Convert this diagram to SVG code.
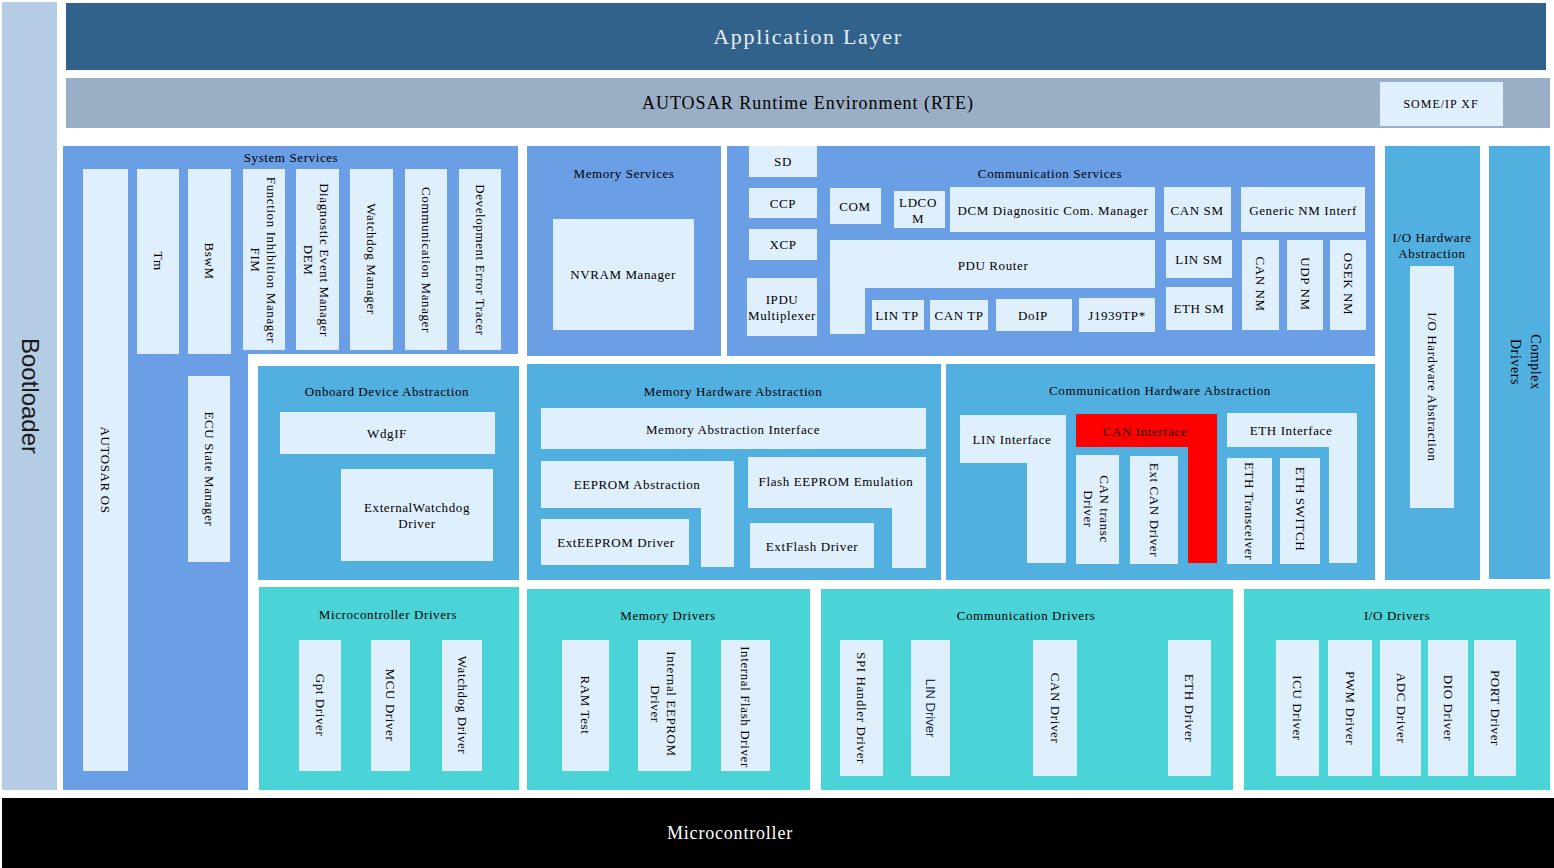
<svg xmlns="http://www.w3.org/2000/svg" width="1554" height="868" viewBox="0 0 1554 868">
<style>
.t{font-family:"Liberation Serif",serif;font-size:13px;letter-spacing:0.6px;fill:#000;text-anchor:middle;dominant-baseline:central}
.ss{fill:#6a9fe6}.hw{fill:#52b0e0}.dr{fill:#4bd4d8}.lb{fill:#e0effc}
</style>
<rect width="1554" height="868" fill="#fff"/>
<g id="bootloader"><rect x="2" y="2" width="55" height="788" fill="#b4cce4"/><text transform="translate(30,396) rotate(90)" style="font-family:'Liberation Sans',sans-serif;font-size:24px;fill:#1a1a1a;text-anchor:middle;dominant-baseline:central">Bootloader</text></g>
<g id="application-layer"><rect x="66" y="3" width="1480" height="67" fill="#31628c"/><text class="t" x="808" y="36" style="font-size:22px;letter-spacing:1.7px;fill:#e6eef6">Application Layer</text></g>
<g id="rte"><rect x="66" y="78" width="1484" height="50" fill="#9aafc5"/><text class="t" x="808" y="103" style="font-size:18px;letter-spacing:1px">AUTOSAR Runtime Environment (RTE)</text></g>
<g id="someip-xf"><rect x="1380" y="82" width="123" height="44" class="lb"/><text class="t" x="1441" y="104" style="font-size:12px;letter-spacing:1px">SOME/IP XF</text></g>

<g id="system-services"><path class="ss" d="M63,146 H518 V354 H248 V790 H63 Z"/><text class="t" x="291" y="157">System Services</text></g>
<g id="autosar-os"><rect class="lb" x="83" y="169" width="45" height="602"/><text class="t" transform="translate(105,470) rotate(90)">AUTOSAR OS</text></g>
<g id="tm"><rect class="lb" x="137" y="169" width="42" height="185"/><text class="t" transform="translate(158,261) rotate(90)">Tm</text></g>
<g id="bswm"><rect class="lb" x="188" y="169" width="43" height="185"/><text class="t" transform="translate(209,261) rotate(90)">BswM</text></g>
<g id="fim"><rect class="lb" x="243" y="169" width="42" height="181"/><text class="t" transform="translate(264,260) rotate(90)"><tspan x="0" y="-8">Function Inhibition Manager</tspan><tspan x="0" y="8">FIM</tspan></text></g>
<g id="dem"><rect class="lb" x="296" y="169" width="43" height="181"/><text class="t" transform="translate(317,260) rotate(90)"><tspan x="0" y="-8">Diagnostic Event Manager</tspan><tspan x="0" y="8">DEM</tspan></text></g>
<g id="wdgm"><rect class="lb" x="350" y="169" width="43" height="181"/><text class="t" transform="translate(371,259) rotate(90)">Watchdog Manager</text></g>
<g id="comm"><rect class="lb" x="405" y="169" width="42" height="181"/><text class="t" transform="translate(426,260) rotate(90)">Communication Manager</text></g>
<g id="det"><rect class="lb" x="459" y="169" width="42" height="181"/><text class="t" transform="translate(480,260) rotate(90)">Development Error Tracer</text></g>
<g id="ecum"><rect class="lb" x="188" y="376" width="42" height="186"/><text class="t" transform="translate(209,469) rotate(90)">ECU State Manager</text></g>

<g id="memory-services"><rect class="ss" x="527" y="146" width="194" height="210"/><text class="t" x="624" y="173">Memory Services</text></g>
<g id="nvram"><rect class="lb" x="553" y="219" width="141" height="111"/><text class="t" x="623" y="274">NVRAM Manager</text></g>

<g id="communication-services"><rect class="ss" x="727" y="146" width="648" height="210"/><text class="t" x="1050" y="173">Communication Services</text></g>
<g id="sd"><rect class="lb" x="749" y="146" width="68" height="31"/><text class="t" x="783" y="161">SD</text></g>
<g id="ccp"><rect class="lb" x="749" y="188" width="68" height="30"/><text class="t" x="783" y="203">CCP</text></g>
<g id="xcp"><rect class="lb" x="749" y="229" width="68" height="31"/><text class="t" x="783" y="244">XCP</text></g>
<g id="ipdum"><rect class="lb" x="747" y="278" width="70" height="58"/><text class="t" x="782" y="299">IPDU</text><text class="t" x="782" y="315">Multiplexer</text></g>
<g id="com"><rect class="lb" x="830" y="188" width="51" height="36"/><text class="t" x="855" y="206">COM</text></g>
<g id="ldcom"><rect class="lb" x="894" y="191" width="51" height="37"/><text class="t" x="918" y="202">LDCO</text><text class="t" x="918" y="218">M</text></g>
<g id="dcm"><rect class="lb" x="950" y="187" width="205" height="45"/><text class="t" x="1053" y="210">DCM Diagnositic Com. Manager</text></g>
<g id="pdur"><path class="lb" d="M830,240 H1155 V288 H865 V334 H830 Z"/><text class="t" x="993" y="265">PDU Router</text></g>
<g id="lintp"><rect class="lb" x="872" y="300" width="52" height="30"/><text class="t" x="897" y="315">LIN TP</text></g>
<g id="cantp"><rect class="lb" x="930" y="300" width="58" height="30"/><text class="t" x="959" y="315">CAN TP</text></g>
<g id="doip"><rect class="lb" x="996" y="299" width="76" height="32"/><text class="t" x="1033" y="315">DoIP</text></g>
<g id="j1939tp"><rect class="lb" x="1079" y="298" width="76" height="34"/><text class="t" x="1117" y="315">J1939TP*</text></g>
<g id="cansm"><rect class="lb" x="1164" y="187" width="67" height="45"/><text class="t" x="1197" y="210">CAN SM</text></g>
<g id="nm-interf"><rect class="lb" x="1241" y="187" width="124" height="45"/><text class="t" x="1303" y="210">Generic NM Interf</text></g>
<g id="linsm"><rect class="lb" x="1166" y="240" width="66" height="38"/><text class="t" x="1199" y="259">LIN SM</text></g>
<g id="ethsm"><rect class="lb" x="1166" y="287" width="66" height="43"/><text class="t" x="1199" y="308">ETH SM</text></g>
<g id="cannm"><rect class="lb" x="1242" y="240" width="37" height="90"/><text class="t" transform="translate(1260,284) rotate(90)">CAN NM</text></g>
<g id="udpnm"><rect class="lb" x="1287" y="240" width="36" height="90"/><text class="t" transform="translate(1305,284) rotate(90)">UDP NM</text></g>
<g id="oseknm"><rect class="lb" x="1330" y="240" width="36" height="90"/><text class="t" transform="translate(1348,284) rotate(90)">OSEK NM</text></g>

<g id="io-hw-abstraction"><rect class="hw" x="1385" y="146" width="95" height="434"/><text class="t" x="1432" y="237">I/O Hardware</text><text class="t" x="1432" y="253">Abstraction</text></g>
<g id="io-hw-abstraction-inner"><rect class="lb" x="1410" y="266" width="44" height="242"/><text class="t" transform="translate(1432,387) rotate(90)">I/O Hardware Abstraction</text></g>
<g id="complex-drivers"><rect class="hw" x="1489" y="146" width="61" height="433"/><text class="t" transform="translate(1526,362) rotate(90)" style="font-size:14px"><tspan x="0" y="-10">Complex</tspan><tspan x="0" y="10">Drivers</tspan></text></g>

<g id="onboard-device-abstraction"><rect class="hw" x="258" y="366" width="261" height="214"/><text class="t" x="387" y="391">Onboard Device Abstraction</text></g>
<g id="wdgif"><rect class="lb" x="280" y="412" width="215" height="42"/><text class="t" x="387" y="433">WdgIF</text></g>
<g id="ext-wdg"><rect class="lb" x="341" y="469" width="152" height="92"/><text class="t" x="417" y="507">ExternalWatchdog</text><text class="t" x="417" y="523">Driver</text></g>

<g id="memory-hw-abstraction"><rect class="hw" x="527" y="364" width="414" height="216"/><text class="t" x="733" y="391">Memory Hardware Abstraction</text></g>
<g id="memif"><rect class="lb" x="541" y="408" width="385" height="41"/><text class="t" x="733" y="429">Memory Abstraction Interface</text></g>
<g id="ea"><path class="lb" d="M541,461 H734 V567 H701 V508 H541 Z"/><text class="t" x="637" y="484">EEPROM Abstraction</text></g>
<g id="ext-eeprom"><rect class="lb" x="541" y="519" width="148" height="46"/><text class="t" x="616" y="542">ExtEEPROM Driver</text></g>
<g id="fee"><path class="lb" d="M748,457 H926 V568 H892 V508 H748 Z"/><text class="t" x="836" y="481">Flash EEPROM Emulation</text></g>
<g id="ext-flash"><rect class="lb" x="750" y="523" width="124" height="45"/><text class="t" x="812" y="546">ExtFlash Driver</text></g>

<g id="comm-hw-abstraction"><rect class="hw" x="946" y="364" width="429" height="216"/><text class="t" x="1160" y="390">Communication Hardware Abstraction</text></g>
<g id="linif"><path class="lb" d="M960,415 H1066 V563 H1027 V463 H960 Z"/><text class="t" x="1012" y="439">LIN Interface</text></g>
<g id="canif"><path fill="#ff0000" d="M1076,414 H1217 V563 H1188 V447 H1076 Z"/><text class="t" x="1145" y="431" style="fill:#2a0000">CAN Interface</text></g>
<g id="ethif"><path class="lb" d="M1227,413 H1357 V563 H1329 V447 H1227 Z"/><text class="t" x="1291" y="430">ETH Interface</text></g>
<g id="cantrcv"><rect class="lb" x="1076" y="455" width="43" height="109"/><text class="t" transform="translate(1097,509) rotate(90)"><tspan x="0" y="-8">CAN transc</tspan><tspan x="0" y="8">Driver</tspan></text></g>
<g id="extcan"><rect class="lb" x="1130" y="456" width="48" height="108"/><text class="t" transform="translate(1154,510) rotate(90)">Ext CAN Driver</text></g>
<g id="ethtrcv"><rect class="lb" x="1227" y="458" width="45" height="106"/><text class="t" transform="translate(1249,511) rotate(90)">ETH Transceiver</text></g>
<g id="ethswt"><rect class="lb" x="1280" y="458" width="40" height="106"/><text class="t" transform="translate(1300,509) rotate(90)">ETH SWITCH</text></g>

<g id="mcu-drivers"><rect class="dr" x="259" y="587" width="260" height="203"/><text class="t" x="388" y="614">Microcontroller Drivers</text></g>
<g id="gpt"><rect class="lb" x="299" y="640" width="42" height="131"/><text class="t" transform="translate(320,705) rotate(90)">Gpt Driver</text></g>
<g id="mcu"><rect class="lb" x="371" y="640" width="39" height="131"/><text class="t" transform="translate(390,705) rotate(90)">MCU Driver</text></g>
<g id="wdg"><rect class="lb" x="442" y="640" width="40" height="131"/><text class="t" transform="translate(462,705) rotate(90)">Watchdog Driver</text></g>

<g id="memory-drivers"><rect class="dr" x="527" y="589" width="283" height="201"/><text class="t" x="668" y="615">Memory Drivers</text></g>
<g id="ramtest"><rect class="lb" x="562" y="640" width="47" height="131"/><text class="t" transform="translate(585,705) rotate(90)">RAM Test</text></g>
<g id="int-eeprom"><rect class="lb" x="638" y="640" width="53" height="131"/><text class="t" transform="translate(664,704) rotate(90)"><tspan x="0" y="-8">Internal EEPROM</tspan><tspan x="0" y="8">Driver</tspan></text></g>
<g id="int-flash"><rect class="lb" x="721" y="640" width="49" height="131"/><text class="t" transform="translate(745,707) rotate(90)">Internal Flash Driver</text></g>

<g id="comm-drivers"><rect class="dr" x="821" y="589" width="412" height="201"/><text class="t" x="1026" y="615">Communication Drivers</text></g>
<g id="spi"><rect class="lb" x="840" y="640" width="43" height="136"/><text class="t" transform="translate(861,708) rotate(90)">SPI Handler Driver</text></g>
<g id="lin"><rect class="lb" x="911" y="640" width="39" height="136"/><text transform="translate(930,708) rotate(90)" style="font-family:'Liberation Sans',sans-serif;font-size:13px;fill:#1f2f50;text-anchor:middle;dominant-baseline:central">LIN Driver</text></g>
<g id="can"><rect class="lb" x="1033" y="640" width="44" height="136"/><text class="t" transform="translate(1055,708) rotate(90)">CAN Driver</text></g>
<g id="eth"><rect class="lb" x="1168" y="640" width="43" height="136"/><text class="t" transform="translate(1189,708) rotate(90)">ETH Driver</text></g>

<g id="io-drivers"><rect class="dr" x="1244" y="589" width="306" height="201"/><text class="t" x="1397" y="615">I/O Drivers</text></g>
<g id="icu"><rect class="lb" x="1276" y="640" width="43" height="136"/><text class="t" transform="translate(1297,708) rotate(90)">ICU Driver</text></g>
<g id="pwm"><rect class="lb" x="1328" y="640" width="44" height="136"/><text class="t" transform="translate(1350,708) rotate(90)">PWM Driver</text></g>
<g id="adc"><rect class="lb" x="1380" y="640" width="41" height="136"/><text class="t" transform="translate(1401,708) rotate(90)">ADC Driver</text></g>
<g id="dio"><rect class="lb" x="1428" y="640" width="40" height="136"/><text class="t" transform="translate(1448,708) rotate(90)">DIO Driver</text></g>
<g id="port"><rect class="lb" x="1474" y="640" width="42" height="136"/><text class="t" transform="translate(1495,708) rotate(90)">PORT Driver</text></g>

<g id="microcontroller"><rect x="2" y="798" width="1552" height="70" fill="#000"/><text class="t" x="730" y="833" style="font-size:18px;letter-spacing:0.8px;fill:#fff">Microcontroller</text></g>
<g id="connectors"></g>
</svg>
